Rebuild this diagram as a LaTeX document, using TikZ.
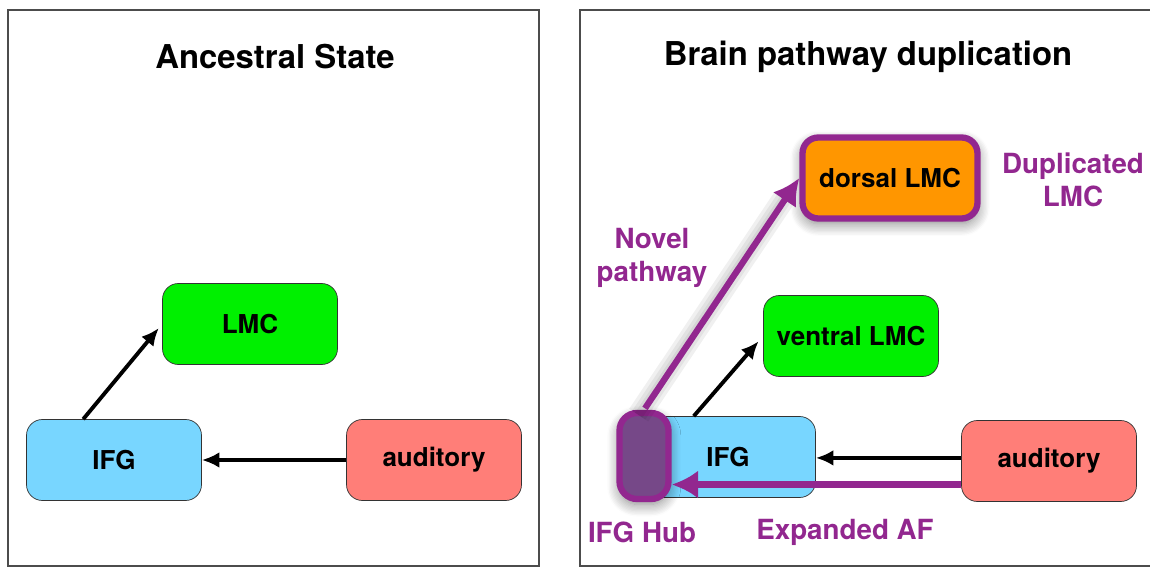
\documentclass[tikz,border=0pt]{standalone}
\usepackage{fontspec}
\setmainfont{TeX Gyre Heros}
\usepackage{xcolor}
\usetikzlibrary{arrows.meta,shadows.blur}

\definecolor{lmcgreen}{RGB}{0,240,0}
\definecolor{ifgblue}{RGB}{120,214,255}
\definecolor{audred}{RGB}{255,126,120}
\definecolor{dorsorange}{RGB}{255,150,0}
\definecolor{hubpurple}{RGB}{146,39,143}
\definecolor{hubfill}{RGB}{118,72,136}

\begin{document}
\begin{tikzpicture}[x=0.02cm, y=-0.02cm,
    every node/.style = {font=\bfseries},
    area/.style = {shape=rectangle, rounded corners=9pt, draw=black!80,
      align=center, minimum width=3.5cm, minimum height=1.62cm,
      font=\bfseries\fontsize{14.8}{17}\selectfont},
    title/.style = {font=\bfseries\fontsize{18.7}{22}\selectfont},
    note/.style = {text=hubpurple, align=center,
      font=\bfseries\fontsize{15.8}{18.5}\selectfont},
    link/.style = {-{Latex[length=10pt,width=9pt]}, line width=2.2pt},
    newlink/.style = {-{Latex[length=15pt,width=16pt]}, line width=3.6pt,
      draw=hubpurple},
    glow/.style = {blur shadow={shadow xshift=0pt, shadow yshift=-3pt,
      shadow blur steps=10, shadow blur radius=7pt,
      shadow blur extra rounding=4pt, shadow opacity=50}}]
    \useasboundingbox (0,0) rectangle (1150,567);

    % panels
    \draw[black!70, line width=0.8pt] (8,10) rectangle (539,566);
    \draw[black!70, line width=0.8pt] (580,10) rectangle (1160,566);

    % ancestral state
    \node[title] (titleA) at (275,57) {Ancestral State};
    \node[area, fill=lmcgreen] (lmcA) at (250,324) {LMC};
    \node[area, fill=ifgblue] (ifgA) at (114,460) {IFG};
    \node[area, fill=audred] (audA) at (434,460) {auditory};
    \draw[link, shorten >=3pt] (ifgA.127) -- (lmcA.west);
    \draw[link] (audA.west) -- (ifgA.east);

    % pathway duplication
    \node[title] (titleB) at (868,57) {Brain pathway duplication};
    \node[area, fill=lmcgreen] (ventB) at (851,336) {ventral LMC};
    \node[area, fill=ifgblue] (ifgB) at (728,457) {IFG};
    \node[area, fill=audred] (audB) at (1049,461) {auditory};
    \node[area, fill=dorsorange, draw=hubpurple, line width=3.6pt, glow]
      (dorsB) at (890,178) {dorsal LMC};
    \node[shape=rectangle, rounded corners=10pt, draw=hubpurple,
      fill=hubfill, line width=3.6pt, minimum width=0.98cm,
      minimum height=1.72cm, glow] (hub) at (644,456) {};
    \draw[link, shorten >=4pt] (ifgB.130) -- (ventB.west);
    \draw[link] (audB.178) -- (ifgB.east |- audB.178);
    \draw[newlink] (audB.195) -- (hub.east |- audB.195);
    \foreach \w in {5,9,13}
      \draw[black, opacity=0.06, line width=\w pt, shorten >=10pt]
        ([xshift=-3pt, yshift=-3pt]hub.north) -- ([xshift=-3pt, yshift=-3pt]dorsB.west);
    \draw[newlink, shorten <=1pt] (hub.north) -- (dorsB.west);

    % labels
    \node[note] (novel) at (652,258) {Novel\\pathway};
    \node[note] (dup) at (1073,180) {Duplicated\\LMC};
    \node[note] (hubl) at (642,532) {IFG Hub};
    \node[note] (afl) at (845,532) {Expanded AF};
\end{tikzpicture}
\end{document}
